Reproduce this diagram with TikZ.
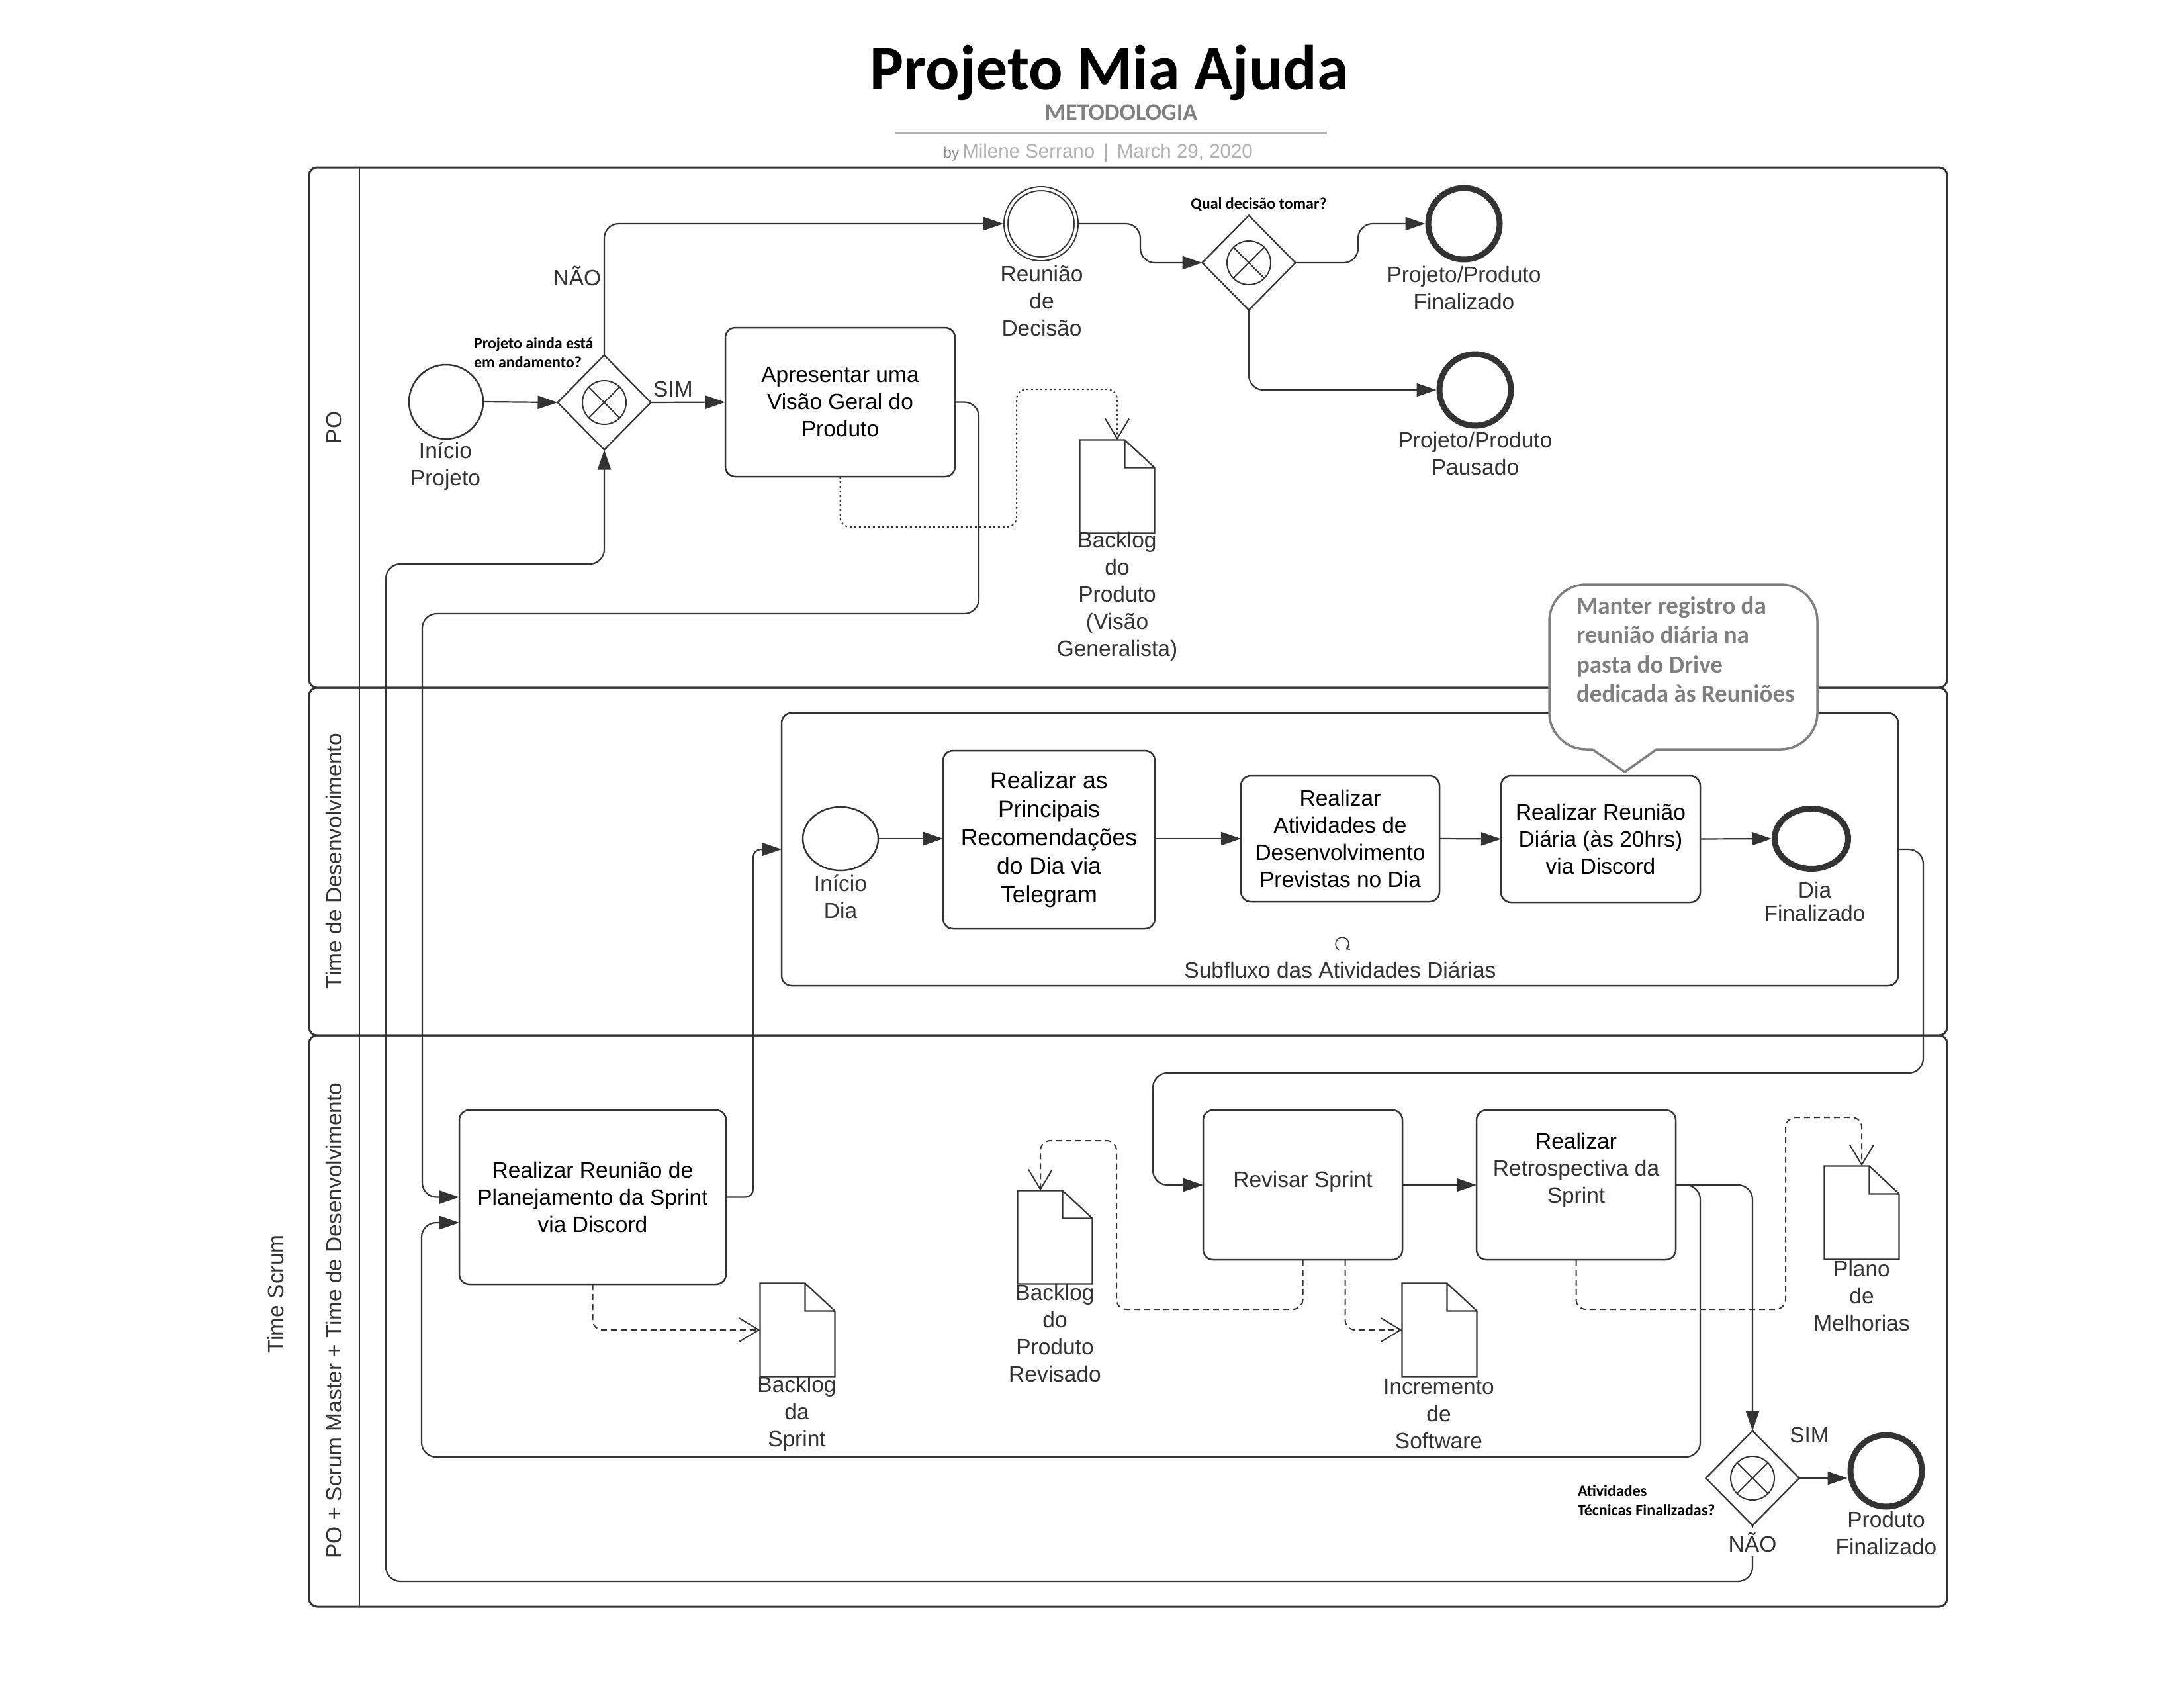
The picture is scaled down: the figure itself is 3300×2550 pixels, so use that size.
\documentclass[tikz,border=0pt]{standalone}
\usepackage{fontspec}
\setmainfont{Liberation Sans}
\newfontfamily\carlito{Carlito}
\usetikzlibrary{arrows.meta,shapes.geometric}
\definecolor{ln}{HTML}{333333}
\definecolor{notegray}{HTML}{7F7F7F}
\definecolor{metgray}{HTML}{808080}
\definecolor{bygray}{HTML}{8C8C8C}
\definecolor{authgray}{HTML}{B0B0B0}
\definecolor{rulegray}{HTML}{B3B3B3}
\newcommand\mainsz{\fontsize{33.5}{41}\selectfont}
\newcommand\bigsz{\fontsize{35.5}{43}\selectfont}
\newcommand\qsz{\carlito\bfseries\fontsize{24}{29}\selectfont}
\newcommand\gwmark[1]{\draw[ln, line width=2pt] (#1.center) circle[radius=33pt]
  ([shift={(-23.3pt,-23.3pt)}]#1.center) -- ([shift={(23.3pt,23.3pt)}]#1.center)
  ([shift={(-23.3pt,23.3pt)}]#1.center) -- ([shift={(23.3pt,-23.3pt)}]#1.center);}
\newcommand\docshape[1]{\draw[ln, line width=2.2pt, fill=white, line join=miter]
  (#1.south west) -- (#1.north west) -- ([xshift=-45pt]#1.north east)
  -- ([yshift=-42pt]#1.north east) -- (#1.south east) -- cycle
  ([xshift=-45pt]#1.north east) -- ([xshift=-45pt,yshift=-42pt]#1.north east)
  -- ([yshift=-42pt]#1.north east);}
\begin{document}
\begin{tikzpicture}[x=1pt,y=-1pt,
  every node/.style={inner sep=0pt, outer sep=0pt},
  lane/.style={draw=ln, line width=3pt, rounded corners=12pt},
  conn/.style={draw=ln, line width=2.2pt, rounded corners=22pt, -{Triangle[length=30pt,width=20pt]}},
  assoc/.style={draw=ln, line width=2pt, rounded corners=15pt, dash pattern=on 9pt off 6pt, -{Straight Barb[length=30pt,width=36pt]}},
  assocdot/.style={assoc, dash pattern=on 3pt off 4pt},
  task/.style={rectangle, draw=ln, line width=2.5pt, rounded corners=15pt, fill=white, align=center, font=\mainsz, text=black},
  evstart/.style={circle, draw=ln, line width=2.5pt, fill=white, minimum size=112pt},
  evend/.style={circle, draw=ln, line width=9pt, fill=white, minimum size=108pt, outer sep=4.5pt},
  gateway/.style={diamond, draw=ln, line width=2.2pt, fill=white, minimum width=141pt, minimum height=143pt},
  docbox/.style={rectangle, minimum width=113pt, minimum height=141pt},
  lbl/.style={align=center, font=\mainsz, text=ln},
  qlbl/.style={align=left, font=\qsz, text=black},
  lanelbl/.style={rotate=90, font=\mainsz, text=ln}
]
\useasboundingbox (0,0) rectangle (3300,2550);

% ---------- header ----------
\node[anchor=base, font=\carlito\bfseries\fontsize{96}{110}\selectfont, text=black] (title) at (1676,136) {Projeto Mia Ajuda};
\node[anchor=base, font=\carlito\bfseries\fontsize{36}{42}\selectfont, text=metgray] (metod) at (1694,182) {METODOLOGIA};
\draw[rulegray, line width=4pt] (1352,201) -- (2005,201);
\node[anchor=base, font=\fontsize{29.5}{34}\selectfont, text=authgray] (byline) at (1659,238)
  {{\fontsize{23}{26}\selectfont\color{bygray}by}\,Milene Serrano\hspace{13pt}|\hspace{13pt}March 29, 2020};

% ---------- lanes ----------
\draw[lane] (467,253) rectangle (2942,1039);
\draw[lane] (467,1039) rectangle (2942,1564);
\draw[lane] (467,1564) rectangle (2942,2427);
\draw[ln, line width=2.5pt] (543,253) -- (543,2427);
\node[lanelbl] (lanePO) at (505,646) {PO};
\node[lanelbl] (laneDev) at (505,1301) {Time de Desenvolvimento};
\node[lanelbl] (laneAll) at (505,1995) {PO + Scrum Master + Time de Desenvolvimento};
\node[lanelbl] (pool) at (417,1955) {Time Scrum};

% ---------- subprocess ----------
\node[draw=ln, line width=2.5pt, rounded corners=15pt, minimum width=1687pt, minimum height=412pt] (sub) at (2024.5,1283) {};

% ---------- PO lane ----------
\node[evstart] (iniP) at (674,607) {};
\node[gateway] (gw1) at (913,608) {};
\gwmark{gw1}
\node[task, minimum width=347pt, minimum height=225pt] (apres) at (1269.5,607.5) {Apresentar uma\\Visão Geral do\\Produto};
\node[circle, draw=ln, line width=2pt, double=white, double distance=4pt, fill=white, minimum size=106pt, outer sep=4pt] (reun) at (1573,338) {};
\node[gateway] (gw2) at (1887,397) {};
\gwmark{gw2}
\node[evend] (fin) at (2212,338) {};
\node[evend] (paus) at (2229,589) {};
\node[docbox] (bp) at (1688,735) {};
\docshape{bp}

% ---------- Dev lane ----------
\node[ellipse, draw=ln, line width=2.5pt, fill=white, minimum width=114pt, minimum height=96pt] (iniD) at (1270,1267) {};
\node[task, font=\bigsz, minimum width=320pt, minimum height=269pt] (princ) at (1585,1268.5) {Realizar as\\Principais\\Recomendações\\do Dia via\\Telegram};
\node[task, minimum width=300pt, minimum height=190pt] (ativ) at (2025,1267) {Realizar\\Atividades de\\Desenvolvimento\\Previstas no Dia};
\node[task, minimum width=301pt, minimum height=191pt] (reud) at (2418.5,1267.5) {Realizar Reunião\\Diária (às 20hrs)\\via Discord};
\node[ellipse, draw=ln, line width=9pt, fill=white, minimum width=111pt, minimum height=91pt, outer sep=4.5pt] (diaF) at (2737,1267) {};
\node (loopm) at (2028,1426) {};
\draw[ln, line width=1.6pt, -{Straight Barb[length=4pt,width=7pt]}] ([shift={(-5pt,-8.7pt)}]loopm.center) arc[start angle=240, end angle=-55, radius=10pt];

% ---------- bottom lane ----------
\node[task, minimum width=403pt, minimum height=263pt] (plan) at (895.5,1808.5) {Realizar Reunião de\\Planejamento da Sprint\\via Discord};
\node[docbox] (bs) at (1205,2009) {};
\docshape{bs}
\node[docbox] (br) at (1594,1869) {};
\docshape{br}
\node[task, minimum width=301pt, minimum height=226pt] (rev) at (1968.5,1790) {};
\node[task, minimum width=301pt, minimum height=226pt] (retro) at (2381.5,1790) {};
\node[docbox] (inc) at (2175,2009) {};
\docshape{inc}
\node[docbox] (plano) at (2813,1832) {};
\docshape{plano}
\node[gateway] (gw3) at (2648,2233) {};
\gwmark{gw3}
\node[evend] (prodF) at (2850,2222) {};

% ---------- sequence flows ----------
\draw[conn] (iniP.east) -- (gw1.west);
\draw[conn] (gw1.east) -- (apres.west);
\draw[conn] (gw1.north) |- (reun.west);
\draw[conn] (reun.east) -| (1723,397) -- (gw2.west);
\draw[conn] (gw2.east) -| (2052,338) -- (fin.west);
\draw[conn] (gw2.south) |- (paus.west);
\draw[conn] (apres.east) -| (1479,927) -- (638,927) |- (plan.west);
\draw[conn, rounded corners=12pt] (plan.east) -| (1138,1283) -- (sub.west);
\draw[conn] (iniD.east) -- (iniD.east -| princ.west);
\draw[conn] (princ.east |- ativ.west) -- (ativ.west);
\draw[conn] (ativ.east) -- (reud.west);
\draw[conn] (reud.east) -- (diaF.west);
\draw[conn] (sub.east) -| (2906,1621) -- (1742,1621) |- (rev.west);
\draw[conn] (rev.east) -- (retro.west);
\draw[conn] (retro.east) -| (gw3.north);
\draw[conn] (retro.east) -| (2569,2201) -- (637,2201) |- ([yshift=-38.5pt]plan.west);
\draw[conn] (gw3.east) -- (gw3.east -| prodF.west);
\draw[conn] (gw3.south) -- (2648,2389) -| (583,852) -| (gw1.south);

% ---------- associations ----------
\draw[assocdot] (apres.south) -- (1269.5,796) -- (1536,796) -- (1536,588) -- (1688,588) -- (bp.north);
\draw[assoc] (plan.south) |- (bs.west);
\draw[assoc] (rev.south) -- (1968.5,1978) -- (1687,1978) -- (1687,1723) -- (1572,1723) -- ([xshift=-22pt]br.north);
\draw[assoc] ([xshift=64pt]rev.south) |- (inc.west);
\draw[assoc] (retro.south) -- (2381.5,1978) -- (2698,1978) -- (2698,1688) -- (2813,1688) -- (plano.north);

% ---------- task texts ----------
\node[font=\mainsz, text=ln] (revT) at (1968.5,1785) {Revisar Sprint};
\node[align=center, font=\mainsz, text=ln] (retroT) at (2381.5,1768) {{\color{black}Realizar}\\Retrospectiva da\\Sprint};

% ---------- labels ----------
\node[lbl] (lblIniP) at (673,704) {Início\\Projeto};
\node[lbl] (lblReun) at (1574,455) {Reunião\\de\\Decisão};
\node[lbl] (lblFin) at (2212,435) {Projeto/Produto\\Finalizado};
\node[lbl] (lblPaus) at (2229,685) {Projeto/Produto\\Pausado};
\node[lbl] (lblBP) at (1688,901) {Backlog\\do\\Produto\\(Visão\\Generalista)};
\node[lbl] (lblIniD) at (1270,1355) {Início\\Dia};
\node[lbl, font=\fontsize{33.5}{35}\selectfont] (lblDiaF) at (2742,1362) {Dia\\Finalizado};
\node[lbl] (lblSub) at (2025,1465) {Subfluxo das Atividades Diárias};
\node[lbl] (lblBS) at (1204,2136) {Backlog\\da\\Sprint};
\node[lbl] (lblBR) at (1594,2014) {Backlog\\do\\Produto\\Revisado};
\node[lbl] (lblInc) at (2174,2136) {Incremento\\de\\Software};
\node[lbl] (lblPlano) at (2813,1958) {Plano\\de\\Melhorias};
\node[lbl] (lblProdF) at (2850,2316) {Produto\\Finalizado};
\node[lbl] (sim1) at (1017,588) {SIM};
\node[lbl] (nao1) at (872,417) {NÃO};
\node[lbl] (sim2) at (2734,2168) {SIM};
\node[lbl, fill=white, inner sep=6pt] (nao2) at (2648,2330) {NÃO};
\node[qlbl, anchor=west] (q1) at (716,533) {Projeto ainda está\\em andamento?};
\node[qlbl] (q2) at (1902,309) {Qual decisão tomar?};
\node[qlbl, anchor=west] (q3) at (2384,2267) {Atividades\\Técnicas Finalizadas?};

% ---------- callout ----------
\draw[notegray, line width=3.5pt, fill=white, line join=round]
  (2455,1166) -- (2406,1132) -- (2396,1132) .. controls (2366,1132) and (2341,1107) .. (2341,1077)
  -- (2341,938) .. controls (2341,908) and (2366,883) .. (2396,883)
  -- (2691,883) .. controls (2721,883) and (2746,908) .. (2746,938)
  -- (2746,1077) .. controls (2746,1107) and (2721,1132) .. (2691,1132)
  -- (2503,1132) -- cycle;
\node[anchor=west, align=left, text=notegray, font=\carlito\bfseries\fontsize{37}{44.5}\selectfont] (note) at (2382,981)
  {Manter registro da\\reunião diária na\\pasta do Drive\\dedicada às Reuniões};
\end{tikzpicture}
\end{document}
